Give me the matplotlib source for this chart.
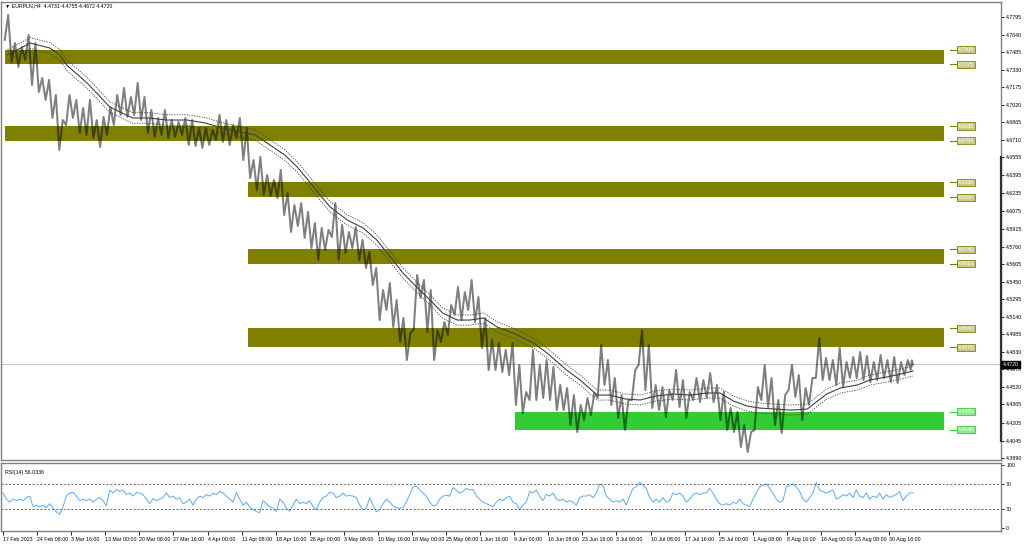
import numpy as np
import matplotlib
matplotlib.use("Agg")
import matplotlib.pyplot as plt

plt.rcParams["font.family"] = ["Liberation Sans", "DejaVu Sans"]

# --- data (price per trading day: high / low) ---
day_high = [4.7813, 4.7565, 4.7530, 4.7636, 4.7565, 4.7255, 4.7238, 4.7105, 4.6883, 4.7105,
            4.7061, 4.6990, 4.7061, 4.6883, 4.6910, 4.6998, 4.7105, 4.7167, 4.7087, 4.7211,
            4.7087, 4.6972, 4.6901, 4.6972, 4.6883, 4.6866, 4.6901, 4.6883, 4.6813, 4.6813,
            4.6795, 4.6928, 4.6883, 4.6839, 4.6901, 4.6813, 4.6529, 4.6556, 4.6396, 4.6352,
            4.6441, 4.6237, 4.6131, 4.6148, 4.6069, 4.5971, 4.5927, 4.5910, 4.6148, 4.5954,
            4.5892, 4.5936, 4.5821, 4.5715, 4.5573, 4.5378, 4.5440, 4.5289, 4.5130, 4.4997,
            4.5511, 4.5467, 4.5378, 4.5024, 4.5095, 4.5245, 4.5405, 4.5360, 4.5467, 4.5316,
            4.5130, 4.4935, 4.4909, 4.4847, 4.4909, 4.4714, 4.4475, 4.4847, 4.4714, 4.4758,
            4.4696, 4.4537, 4.4510, 4.4448, 4.4360, 4.4422, 4.4466, 4.4891, 4.4758, 4.4599,
            4.4448, 4.4404, 4.4670, 4.5024, 4.4891, 4.4537, 4.4519, 4.4492, 4.4670, 4.4581,
            4.4475, 4.4599, 4.4581, 4.4643, 4.4537, 4.4475, 4.4333, 4.4298, 4.4183, 4.4121,
            4.4519, 4.4714, 4.4599, 4.4404, 4.4448, 4.4714, 4.4625, 4.4510, 4.4599, 4.4953,
            4.4776, 4.4758, 4.4865, 4.4740, 4.4785, 4.4829, 4.4794, 4.4740, 4.4803, 4.4758,
            4.4785, 4.4740, 4.4758, 4.4755]
day_low = [4.7592, 4.7397, 4.7353, 4.7415, 4.7193, 4.7131, 4.7061, 4.6901, 4.6618, 4.6839,
           4.6901, 4.6768, 4.6751, 4.6724, 4.6644, 4.6751, 4.6839, 4.6928, 4.6910, 4.6928,
           4.6883, 4.6768, 4.6733, 4.6751, 4.6724, 4.6733, 4.6751, 4.6662, 4.6653, 4.6635,
           4.6662, 4.6706, 4.6689, 4.6662, 4.6724, 4.6529, 4.6370, 4.6264, 4.6219, 4.6210,
           4.6193, 4.6042, 4.5892, 4.5945, 4.5839, 4.5750, 4.5644, 4.5732, 4.5847, 4.5644,
           4.5706, 4.5750, 4.5644, 4.5573, 4.5422, 4.5112, 4.5201, 4.5050, 4.4918, 4.4758,
           4.5024, 4.5307, 4.5006, 4.4758, 4.4918, 4.4980, 4.5157, 4.5112, 4.5201, 4.5095,
           4.4865, 4.4670, 4.4670, 4.4652, 4.4625, 4.4360, 4.4289, 4.4404, 4.4404, 4.4422,
           4.4404, 4.4315, 4.4315, 4.4183, 4.4121, 4.4227, 4.4271, 4.4422, 4.4537, 4.4360,
           4.4245, 4.4139, 4.4404, 4.4714, 4.4492, 4.4333, 4.4315, 4.4254, 4.4404, 4.4342,
           4.4245, 4.4404, 4.4386, 4.4422, 4.4386, 4.4227, 4.4139, 4.4121, 4.3988, 4.3944,
           4.4139, 4.4404, 4.4342, 4.4183, 4.4112, 4.4492, 4.4431, 4.4227, 4.4360, 4.4599,
           4.4581, 4.4581, 4.4537, 4.4519, 4.4599, 4.4599, 4.4581, 4.4563, 4.4581, 4.4599,
           4.4563, 4.4554, 4.4625, 4.4672]
last_close = 4.4720
bars_per_day = 6

# moving average (bar index, value) and envelope width in percent
ma_bar = [4, 24, 41, 50, 56, 74, 94, 114, 129, 144, 162, 178, 193, 209, 222, 235, 248, 259,
          270, 279, 288, 303, 317, 329, 341, 352, 364, 376, 387, 400, 411, 423, 435, 449, 467,
          479, 496, 508, 523, 534, 548, 561, 574, 590, 605, 620, 631, 643, 655, 666, 680, 693,
          708, 717, 725, 737, 752, 763, 778, 790, 801]
ma_val = [4.7459, 4.7565, 4.7521, 4.7459, 4.7370, 4.7211, 4.6998, 4.6901, 4.6901, 4.6883,
          4.6883, 4.6857, 4.6813, 4.6777, 4.6751, 4.6662, 4.6573, 4.6467, 4.6334, 4.6219,
          4.6113, 4.5998, 4.5927, 4.5821, 4.5670, 4.5529, 4.5405, 4.5289, 4.5174, 4.5112,
          4.5112, 4.5130, 4.5050, 4.4997, 4.4909, 4.4820, 4.4670, 4.4581, 4.4448, 4.4448,
          4.4413, 4.4404, 4.4439, 4.4457, 4.4448, 4.4466, 4.4466, 4.4395, 4.4351, 4.4333,
          4.4324, 4.4315, 4.4324, 4.4395, 4.4457, 4.4510, 4.4537, 4.4581, 4.4608, 4.4634,
          4.4661]
envelope_pct = 0.1

# RSI(14) sampled evenly from first to last bar
rsi = [55.5, 45.9, 41.1, 45.9, 43.5, 45.9, 43.5, 48.3, 50.7, 33.9, 36.3, 33.9, 36.3, 32.4, 38.7,
       31.5, 25.7, 21.8, 33.9, 50.7, 55.5, 56.5, 50.7, 43.5, 45.9, 43.5, 45.9, 41.1, 45.9, 48.3,
       43.5, 35.3, 60.4, 55.5, 61.3, 58.0, 60.4, 53.1, 55.5, 50.7, 56.5, 55.5, 53.1, 45.9, 38.7,
       46.9, 43.5, 45.9, 48.3, 55.5, 48.3, 50.7, 45.9, 48.3, 38.7, 41.1, 45.9, 36.3, 45.9, 50.7,
       48.3, 53.1, 50.7, 55.5, 53.1, 58.0, 55.5, 50.7, 45.9, 41.1, 56.5, 45.9, 36.3, 41.1, 33.9,
       29.0, 26.6, 24.2, 43.5, 38.7, 33.9, 31.5, 26.6, 45.9, 41.1, 31.5, 26.6, 36.3, 45.9, 38.7,
       41.1, 38.7, 43.5, 33.9, 29.0, 41.1, 48.3, 50.7, 56.5, 55.5, 48.3, 50.7, 55.5, 50.7, 51.7,
       50.7, 48.3, 36.3, 29.0, 31.5, 48.3, 36.3, 25.7, 29.0, 38.7, 45.9, 41.1, 35.3, 32.4, 31.5,
       32.4, 41.1, 53.1, 65.2, 66.1, 60.4, 55.5, 50.7, 41.1, 35.3, 36.3, 45.9, 50.7, 51.7, 50.7,
       64.2, 60.4, 55.5, 58.0, 62.8, 60.4, 61.3, 50.7, 45.9, 41.1, 38.7, 36.3, 33.9, 41.1, 45.9,
       43.5, 48.3, 50.7, 41.1, 38.7, 29.0,
       36.3, 41.1, 58.0, 55.5, 60.4, 50.7, 43.5, 53.1, 50.7, 55.5, 45.9, 43.5, 45.9, 41.1, 43.5,
       41.1, 36.3, 48.3, 50.7, 50.7, 53.1, 48.3, 55.5, 70.0, 67.6, 50.7, 45.9, 41.1, 43.5, 41.1,
       45.9, 36.3, 50.7, 62.8, 65.2, 72.4, 67.6, 62.8, 48.3, 41.1, 45.9, 41.1, 48.3, 41.1, 43.5,
       55.5, 53.1, 55.5, 50.7, 41.1, 45.9, 53.1, 55.5, 53.1, 55.5, 55.5, 62.8, 55.5, 45.9, 38.7,
       36.3, 38.7, 36.3, 41.1, 38.7, 45.9, 38.7, 36.3, 33.9, 45.9, 55.5, 65.2, 67.6, 70.0, 62.8,
       55.5, 45.9, 41.1, 43.5, 65.2, 67.6, 70.0, 65.2, 58.0, 45.9, 41.1, 48.3, 55.5, 72.4, 60.4,
       58.0, 55.5, 58.0, 60.4, 45.9, 48.3, 53.1, 50.7, 55.5, 48.3, 60.4, 50.7, 48.3, 55.5, 45.9,
       50.7, 48.3, 55.5, 45.9, 53.1, 48.3, 50.7, 53.1, 58.0, 43.5, 50.7, 55.5, 56.0]
last_bar = 801

# horizontal zones: (top, bottom, first bar, colour)
zone_top = [4.7505, 4.6830, 4.6330, 4.5740, 4.5040, 4.4300]
zone_bottom = [4.7375, 4.6700, 4.6200, 4.5610, 4.4870, 4.4140]
zone_start = [2, 2, 216, 216, 216, 451]
zone_end = 828
zone_colors = ["#808000"] * 5 + ["#32cd32"]
zone_label_bg = ["#c9c98c"] * 5 + ["#8ee88e"]

y_ticks = [4.7795, 4.7640, 4.7485, 4.7330, 4.7175, 4.7020, 4.6865, 4.6710, 4.6555, 4.6395,
           4.6235, 4.6075, 4.5915, 4.5760, 4.5605, 4.5450, 4.5295, 4.5140, 4.4985, 4.4830,
           4.4675, 4.4520, 4.4365, 4.4205, 4.4045, 4.3890]
date_labels = ["17 Feb 2023", "24 Feb 08:00", "3 Mar 16:00", "13 Mar 00:00", "20 Mar 08:00",
               "27 Mar 16:00", "4 Apr 00:00", "11 Apr 08:00", "18 Apr 16:00", "26 Apr 00:00",
               "3 May 08:00", "10 May 16:00", "18 May 00:00", "25 May 08:00", "1 Jun 16:00",
               "9 Jun 00:00", "16 Jun 08:00", "23 Jun 16:00", "3 Jul 00:00", "10 Jul 08:00",
               "17 Jul 16:00", "25 Jul 00:00", "1 Aug 08:00", "8 Aug 16:00", "16 Aug 00:00",
               "23 Aug 08:00", "30 Aug 16:00"]
bars_per_label = 30

FS = 3.8
frame_col = "#808080"

fig = plt.figure(figsize=(10.24, 5.44), dpi=100)
ax = fig.add_axes([1 / 1024, 1 - 460 / 544, 1000 / 1024, 458 / 544])
rx = fig.add_axes([1 / 1024, 1 - 531 / 544, 1000 / 1024, 68 / 544])
xlim = (-1.8, 878.5)

# zones
for top, bot, start, col in zip(zone_top, zone_bottom, zone_start, zone_colors):
    ax.fill_between([start, zone_end], bot, top, color=col, lw=0, zorder=1)

# price path: low then high inside every day
xs, ys = [], []
for d in range(len(day_high)):
    xs += [min(d * bars_per_day + 1.5, last_bar - 2), min(d * bars_per_day + 4.5, last_bar - 1)]
    ys += [day_low[d], day_high[d]]
xs.append(last_bar)
ys.append(last_close)
ax.plot(xs, ys, color="black", alpha=0.5, lw=1.45, zorder=3)

# moving average with envelopes
ma = np.array(ma_val)
ax.plot(ma_bar, ma, color="#404040", lw=0.8, zorder=4)
ax.plot(ma_bar, ma * (1 + envelope_pct / 100), color="#404040", lw=0.6, ls=(0, (1.5, 1.5)), zorder=4)
ax.plot(ma_bar, ma * (1 - envelope_pct / 100), color="#404040", lw=0.6, ls=(0, (1.5, 1.5)), zorder=4)

# current price line
ax.axhline(last_close, color="#c8c8c8", lw=0.8, zorder=2)

# zone price labels
for top, bot, col, bg in zip(zone_top, zone_bottom, zone_colors, zone_label_bg):
    for lvl in (top, bot):
        ax.plot([zone_end + 6, zone_end + 12], [lvl, lvl], color=col, lw=0.8, zorder=5)
        ax.text(zone_end + 12.5, lvl, f"{lvl:.4f}", fontsize=FS, color="white", va="center",
                ha="left", zorder=6,
                bbox=dict(boxstyle="square,pad=0.2", fc=bg, ec=col, lw=0.6))

ax.set_xlim(*xlim)
ax.set_ylim(4.3873, 4.7928)
ax.yaxis.tick_right()
ax.set_yticks(y_ticks)
ax.set_yticklabels([f"{v:.4f}" for v in y_ticks])
ax.tick_params(axis="y", labelsize=FS, length=2.5, width=0.6, pad=1.2, colors="black")
ax.set_xticks([])
for s in ax.spines.values():
    s.set_color(frame_col)
    s.set_linewidth(1)
# darker stretch of the price scale edge
ax.plot([1, 1], [4.4045, 4.6555], transform=ax.get_yaxis_transform(), color="#303030",
        lw=1.6, clip_on=False, zorder=8)

ax.text(1.0015, last_close, f"{last_close:.4f}", transform=ax.get_yaxis_transform(),
        fontsize=FS, color="white", va="center", ha="left", zorder=9,
        bbox=dict(boxstyle="square,pad=0.2", fc="black", ec="black"))
ax.text(0.004, 0.991, "\u25bc EURPLN,H4  4.4731 4.4755 4.4672 4.4720", transform=ax.transAxes,
        fontsize=FS, va="center", ha="left")

# RSI pane
rsi_x = np.linspace(0, last_bar, len(rsi))
rx.plot(rsi_x, rsi, color="#1e90ff", lw=0.7, alpha=0.75)
for lvl in (70, 30):
    rx.axhline(lvl, color="#606060", lw=0.7, ls=(0, (2, 2)))
rx.set_xlim(*xlim)
rx.set_ylim(-4.5, 103)
rx.yaxis.tick_right()
rx.set_yticks([100, 70, 30, 0])
rx.tick_params(axis="y", labelsize=FS, length=2.5, width=0.6, pad=1.2)
ticks = [i * bars_per_label for i in range(len(date_labels))]
rx.set_xticks(ticks)
rx.set_xticklabels(date_labels)
rx.tick_params(axis="x", labelsize=FS, length=3, width=0.6, pad=1.5)
for lbl in rx.get_xticklabels():
    lbl.set_ha("left")
for s in rx.spines.values():
    s.set_color(frame_col)
    s.set_linewidth(1)
rx.text(0.004, 0.9, "RSI(14) 56.0336", transform=rx.transAxes, fontsize=FS, va="top", ha="left")

fig.savefig("out.png", dpi=100)
